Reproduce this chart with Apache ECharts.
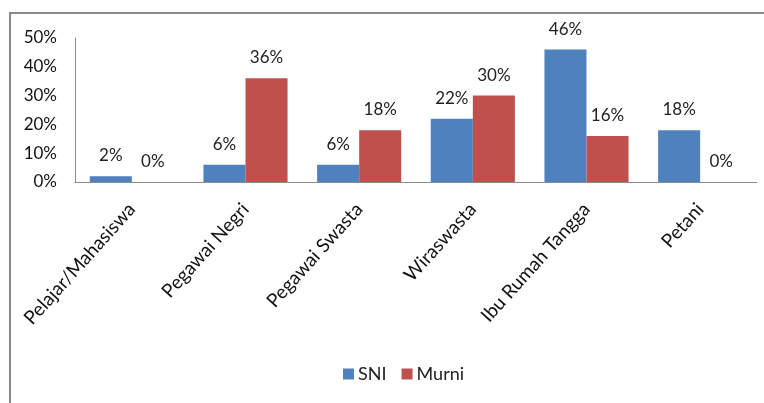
<!DOCTYPE html>
<html>
<head>
<meta charset="utf-8">
<script src="https://cdn.jsdelivr.net/npm/echarts@6/dist/echarts.min.js"></script>
<style>
  html, body { margin: 0; padding: 0; background: #fff; }
  #chart { width: 764px; height: 403px; }
</style>
</head>
<body>
<div id="chart"></div>
<script>
var categories = ['Pelajar/Mahasiswa', 'Pegawai Negri', 'Pegawai Swasta', 'Wiraswasta', 'Ibu Rumah Tangga', 'Petani'];
var sni = [2, 6, 6, 22, 46, 18];
var murni = [0, 36, 18, 30, 16, 0];

var font = 'Lato, "Open Sans", sans-serif';

var labelOpt = {
    show: true,
    position: 'top',
    distance: 12,
    formatter: '{c}%',
    color: '#222',
    fontFamily: font,
    fontSize: 17
};

var option = {
    animation: false,
    backgroundColor: '#fff',
    graphic: [
        {
            type: 'rect',
            shape: { x: 10, y: 13, width: 800, height: 500 },
            style: { fill: 'none', stroke: '#8a8a8a', lineWidth: 2 }
        }
    ],
    legend: {
        data: ['SNI', 'Murni'],
        bottom: 15,
        left: 338,
        itemWidth: 11,
        itemHeight: 11,
        itemGap: 15,
        icon: 'rect',
        textStyle: { fontFamily: font, fontSize: 18, color: '#222', padding: [0, 0, 0, -1] }
    },
    grid: {
        left: 75,
        right: 7,
        top: 38,
        bottom: 221
    },
    xAxis: [
        {
            type: 'category',
            data: categories,
            axisLine: { lineStyle: { color: '#8c8c8c' } },
            axisTick: { show: false },
            axisLabel: {
                rotate: 48,
                interval: 0,
                margin: 24,
                color: '#111',
                fontFamily: font,
                fontSize: 19
            }
        }
    ],
    yAxis: [
        {
            type: 'value',
            min: 0,
            max: 50,
            interval: 10,
            axisLine: { show: true, lineStyle: { color: '#8c8c8c' } },
            axisTick: { show: false },
            splitLine: { show: false },
            axisLabel: {
                formatter: '{value}%',
                margin: 18,
                color: '#111',
                fontFamily: font,
                fontSize: 17
            }
        }
    ],
    series: [
        {
            name: 'SNI',
            type: 'bar',
            data: sni,
            barGap: '0%',
            barCategoryGap: '26%',
            itemStyle: { color: '#4F81BD' },
            label: labelOpt
        },
        {
            name: 'Murni',
            type: 'bar',
            data: murni,
            itemStyle: { color: '#C0504D' },
            label: labelOpt
        }
    ]
};

echarts.init(document.getElementById('chart')).setOption(option);
</script>
</body>
</html>
